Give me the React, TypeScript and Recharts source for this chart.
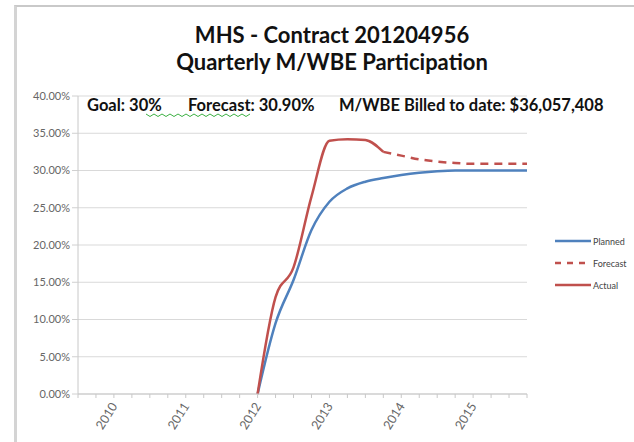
import { LineChart, Line, XAxis, YAxis, CartesianGrid } from 'recharts';

const quarters = [
  '2009 Q3', '2009 Q4',
  '2010 Q1', '2010 Q2', '2010 Q3', '2010 Q4',
  '2011 Q1', '2011 Q2', '2011 Q3', '2011 Q4',
  '2012 Q1', '2012 Q2', '2012 Q3', '2012 Q4',
  '2013 Q1', '2013 Q2', '2013 Q3', '2013 Q4',
  '2014 Q1', '2014 Q2', '2014 Q3', '2014 Q4',
  '2015 Q1', '2015 Q2', '2015 Q3', '2015 Q4',
];

// values in %, null = no point
const planned = [
  null, null, null, null, null, null, null, null, null, null,
  0, 9.5, 15.3, 22, 25.8, 27.6, 28.5, 29.0, 29.4, 29.7, 29.9, 30, 30, 30, 30, 30,
];
const actual = [
  null, null, null, null, null, null, null, null, null, null,
  0, 13, 17, 26.5, 34, 34.2, 34.1, 32.5, null, null, null, null, null, null, null, null,
];
const forecast = [
  null, null, null, null, null, null, null, null, null, null,
  null, null, null, null, null, null, null, 32.5, 32.0, 31.5, 31.2, 31.0, 30.9, 30.9, 30.9, 30.9,
];

const yTicks = [0, 5, 10, 15, 20, 25, 30, 35, 40];
const yearLabels = ['2010', '2011', '2012', '2013', '2014', '2015'];

const data = quarters.map((q, i) => ({
  q,
  planned: planned[i],
  actual: actual[i],
  forecast: forecast[i],
}));

const BLUE = '#4F81BD';
const RED = '#C0504D';
const FONT = 'Lato, "Open Sans", sans-serif';

const YearTick = (props: any) => {
  const { x, y, payload } = props;
  const [year, qq] = String(payload.value).split(' ');
  if (qq !== 'Q1' || !yearLabels.includes(year)) return null;
  return (
    <text
      transform={`translate(${x + 4},${y + 6}) rotate(-58)`}
      textAnchor="end"
      fontSize={12.5}
      fill="#666"
      fontFamily={FONT}
    >
      {year}
    </text>
  );
};

const legendItems = [
  { label: 'Planned', color: BLUE, dash: undefined },
  { label: 'Forecast', color: RED, dash: '6 6' },
  { label: 'Actual', color: RED, dash: undefined },
];

const LegendBox = () => (
  <div style={{ position: 'absolute', left: 555, top: 230, fontFamily: FONT, fontSize: 9, color: '#444' }}>
    {legendItems.map((it) => (
      <div key={it.label} style={{ display: 'flex', alignItems: 'center', height: 22 }}>
        <svg width={36} height={6} style={{ marginRight: 2 }}>
          <line x1={0} y1={3} x2={36} y2={3} stroke={it.color} strokeWidth={2.5} strokeDasharray={it.dash} />
        </svg>
        <span>{it.label}</span>
      </div>
    ))}
  </div>
);

export default function App() {
  return (
    <div style={{ position: 'absolute', left: 0, top: 0, width: 634, height: 442, background: '#fff', overflow: 'hidden' }}>
      <div
        style={{
          position: 'absolute',
          left: 14,
          top: 5,
          width: 640,
          height: 460,
          borderTop: '2px solid #c9c9c9',
          borderLeft: '3px solid #d4d4d4',
        }}
      />
      <div
        style={{
          position: 'absolute',
          left: 0,
          top: 21,
          width: 664,
          textAlign: 'center',
          fontFamily: FONT,
          fontWeight: 700,
          fontSize: 22,
          lineHeight: '27px',
          color: '#111',
        }}
      >
        <div>MHS - Contract 201204956</div>
        <div>Quarterly M/WBE Participation</div>
      </div>
      <div
        style={{
          position: 'absolute',
          top: 95,
          left: 0,
          fontFamily: FONT,
          fontWeight: 700,
          fontSize: 16.5,
          color: '#111',
          whiteSpace: 'nowrap',
        }}
      >
        <span style={{ position: 'absolute', left: 87 }}>Goal: 30%</span>
        <span style={{ position: 'absolute', left: 188 }}>Forecast: 30.90%</span>
        <span style={{ position: 'absolute', left: 339 }}>M/WBE Billed to date: $36,057,408</span>
      </div>
      <svg style={{ position: 'absolute', left: 0, top: 0, zIndex: 2 }} width={634} height={130}>
        <polyline
          points={Array.from({ length: 27 }, (_, k) => `${146 + k * 4},${k % 2 === 0 ? 114 : 116.5}`).join(' ')}
          fill="none"
          stroke="#3cb043"
          strokeWidth={1}
        />
      </svg>
      <div style={{ position: 'absolute', left: 0, top: 0 }}>
        <LineChart width={634} height={442} data={data} margin={{ top: 96, right: 107, bottom: 8, left: 8 }}>
          <CartesianGrid vertical={false} stroke="#d9d9d9" />
          <XAxis
            dataKey="q"
            interval={0}
            tick={<YearTick />}
            tickLine={{ stroke: '#c8c8c8' }}
            tickSize={4}
            axisLine={{ stroke: '#c8c8c8' }}
            height={40}
          />
          <YAxis
            domain={[0, 40]}
            ticks={yTicks}
            tickFormatter={(v: number) => `${v.toFixed(2)}%`}
            width={70}
            tickSize={6}
            tickMargin={2}
            tickLine={{ stroke: '#d0d0d0' }}
            axisLine={{ stroke: '#c8c8c8' }}
            tick={{ fontSize: 11, fill: '#666', fontFamily: FONT }}
          />
          <Line type="monotone" dataKey="planned" stroke={BLUE} strokeWidth={2.5} dot={false} isAnimationActive={false} />
          <Line
            type="monotone"
            dataKey="forecast"
            stroke={RED}
            strokeWidth={2.5}
            strokeDasharray="8 6"
            dot={false}
            isAnimationActive={false}
          />
          <Line type="monotone" dataKey="actual" stroke={RED} strokeWidth={2.5} dot={false} isAnimationActive={false} />
        </LineChart>
      </div>
      <LegendBox />
    </div>
  );
}
